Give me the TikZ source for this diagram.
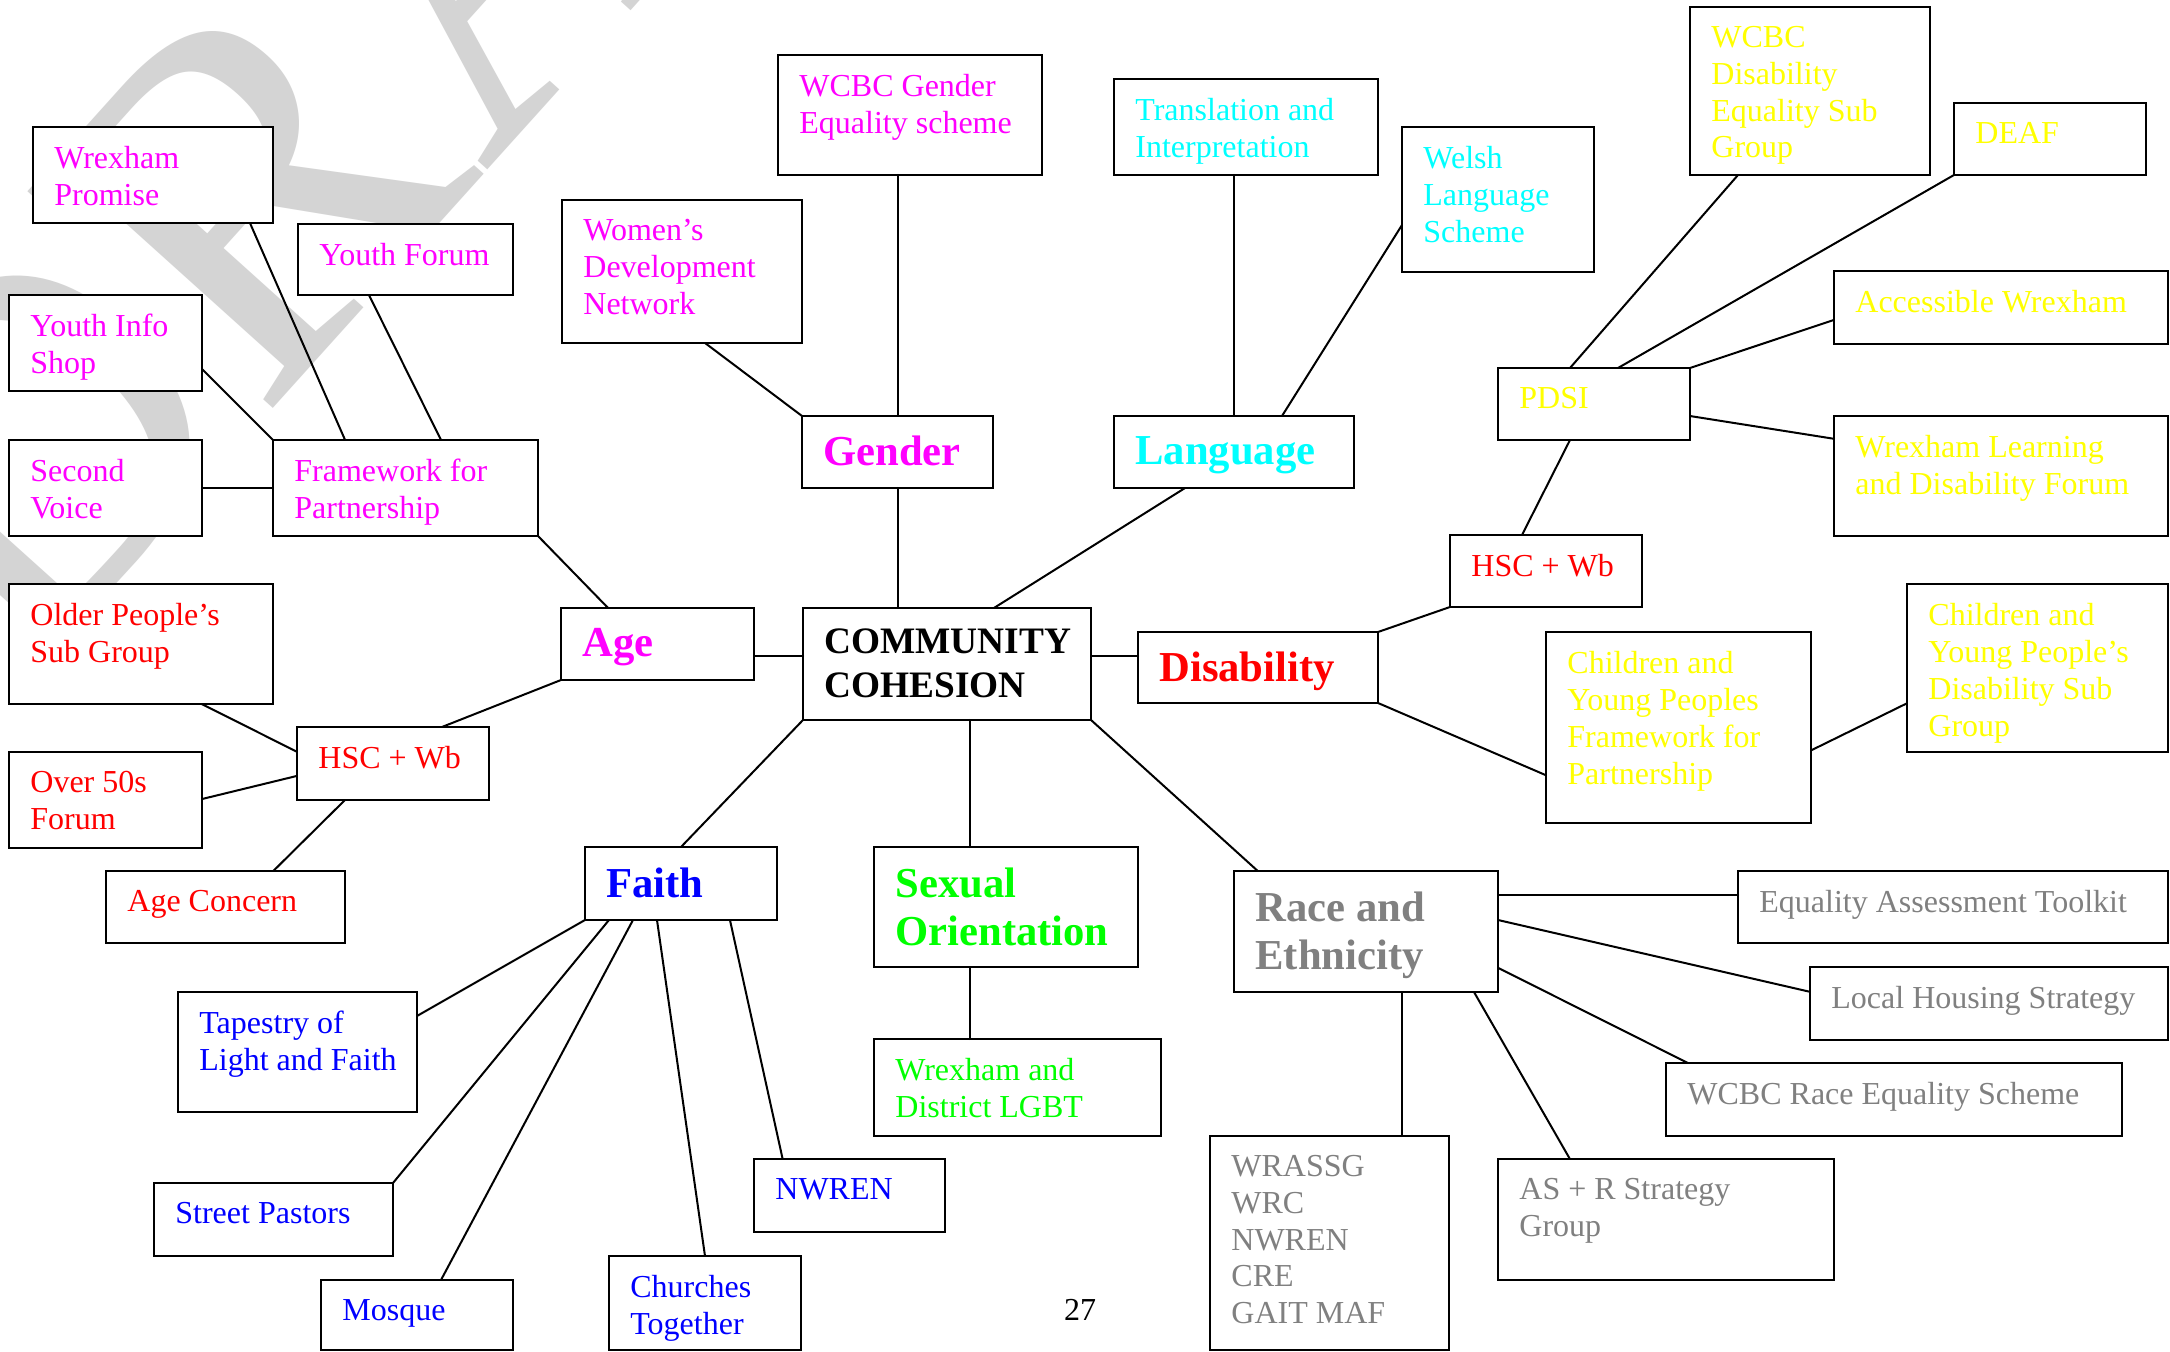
\documentclass[tikz,border=0pt]{standalone}
\usepackage{fontspec}
\setmainfont{Liberation Serif}
\usetikzlibrary{calc}
\definecolor{cmag}{RGB}{255,0,255}
\definecolor{cred}{RGB}{255,0,0}
\definecolor{ccyan}{RGB}{0,255,255}
\definecolor{cyel}{RGB}{255,255,0}
\definecolor{cblue}{RGB}{0,0,255}
\definecolor{cgreen}{RGB}{0,255,0}
\definecolor{cgray}{RGB}{128,128,128}
\definecolor{wmark}{RGB}{212,212,212}
\newcommand\normaltxt{\fontsize{16pt}{18.4pt}\selectfont}
\newcommand\headtxt{\bfseries\fontsize{21.33pt}{24pt}\selectfont}
\newcommand\cctxt{\bfseries\fontsize{18.67pt}{22pt}\selectfont}
\newcommand\mkbox[7]{%
  \node[boxshape, minimum width={(#4-#2)*0.5pt}, minimum height={(#5-#3)*0.5pt}] (#1) at ({(#2+#4)/2},{(#3+#5)/2}) {};
  \node[boxtext, #6] (#1-t) at ([xshift=10.5pt,yshift=-9.5pt]#1.north west) {#7};
}
\tikzset{
  boxshape/.style={draw, line width=1.4pt, fill=white, rectangle, inner sep=0pt, outer sep=0pt},
  boxtext/.style={anchor=north west, inner sep=0pt, align=left, font=\normaltxt},
  hd/.style={font=\headtxt, yshift=-0.5pt},
  ccs/.style={font=\cctxt, yshift=-0.5pt},
  link/.style={line width=1pt, line cap=round},
}
\begin{document}
\begin{tikzpicture}[x=0.5pt, y=-0.5pt]
\useasboundingbox (0,0) rectangle (2170,1352);
\fill[white] (0,0) rectangle (2170,1352);
\begin{scope}
\clip (0,0) rectangle (2170,1352);
\node[rotate=48, anchor=base west, inner sep=0pt, text=wmark, font=\fontsize{250pt}{250pt}\selectfont] (wm) at (20,690) {DRAFT};
\end{scope}

% boxes
\mkbox{wp}{33}{127}{273}{223}{text=cmag}{Wrexham\\Promise}
\mkbox{yf}{298}{224}{513}{295}{text=cmag}{Youth Forum}
\mkbox{yis}{9}{295}{202}{391}{text=cmag}{Youth Info\\Shop}
\mkbox{sv}{9}{440}{202}{536}{text=cmag}{Second\\Voice}
\mkbox{fw}{273}{440}{538}{536}{text=cmag}{Framework for\\Partnership}
\mkbox{wdn}{562}{200}{802}{343}{text=cmag}{Women’s\\Development\\Network}
\mkbox{wge}{778}{55}{1042}{175}{text=cmag}{WCBC Gender\\Equality scheme}
\mkbox{tri}{1114}{79}{1378}{175}{text=ccyan}{Translation and\\Interpretation}
\mkbox{wls}{1402}{127}{1594}{272}{text=ccyan}{Welsh\\Language\\Scheme}
\mkbox{wcbcd}{1690}{7}{1930}{175}{text=cyel}{WCBC\\Disability\\Equality Sub\\Group}
\mkbox{deaf}{1954}{103}{2146}{175}{text=cyel}{DEAF}
\mkbox{aw}{1834}{271}{2168}{344}{text=cyel}{Accessible Wrexham}
\mkbox{pdsi}{1498}{368}{1690}{440}{text=cyel}{PDSI}
\mkbox{wldf}{1834}{416}{2168}{536}{text=cyel}{Wrexham Learning\\and Disability Forum}
\mkbox{gen}{802}{416}{993}{488}{hd,text=cmag}{Gender}
\mkbox{lang}{1114}{416}{1354}{488}{hd,text=ccyan}{Language}
\mkbox{hscd}{1450}{535}{1642}{607}{text=cred}{HSC + Wb}
\mkbox{op}{9}{584}{273}{704}{text=cred}{Older People’s\\Sub Group}
\mkbox{age}{561}{608}{754}{680}{hd,text=cmag}{Age}
\mkbox{cc}{803}{608}{1091}{720}{ccs,text=black}{COMMUNITY\\COHESION}
\mkbox{dis}{1138}{632}{1378}{703}{hd,text=cred}{Disability}
\mkbox{cypf}{1546}{632}{1811}{823}{text=cyel}{Children and\\Young Peoples\\Framework for\\Partnership}
\mkbox{cypd}{1907}{584}{2168}{752}{text=cyel}{Children and\\Young People’s\\Disability Sub\\Group}
\mkbox{hsca}{297}{727}{489}{800}{text=cred}{HSC + Wb}
\mkbox{ofs}{9}{752}{202}{848}{text=cred}{Over 50s\\Forum}
\mkbox{ac}{106}{871}{345}{943}{text=cred}{Age Concern}
\mkbox{faith}{585}{847}{777}{920}{hd,text=cblue}{Faith}
\mkbox{so}{874}{847}{1138}{967}{hd,text=cgreen}{Sexual\\Orientation}
\mkbox{race}{1234}{871}{1498}{992}{hd,text=cgray}{Race and\\Ethnicity}
\mkbox{eat}{1738}{871}{2168}{943}{text=cgray}{Equality Assessment Toolkit}
\mkbox{lhs}{1810}{967}{2168}{1040}{text=cgray}{Local Housing Strategy}
\mkbox{wres}{1666}{1063}{2122}{1136}{text=cgray}{WCBC Race Equality Scheme}
\mkbox{tap}{178}{992}{417}{1112}{text=cblue}{Tapestry of\\Light and Faith}
\mkbox{lgbt}{874}{1039}{1161}{1136}{text=cgreen}{Wrexham and\\District LGBT}
\mkbox{nwren}{754}{1159}{945}{1232}{text=cblue}{NWREN}
\mkbox{wrassg}{1210}{1136}{1449}{1350}{text=cgray}{WRASSG\\WRC\\NWREN\\CRE\\GAIT MAF}
\mkbox{asr}{1498}{1159}{1834}{1280}{text=cgray}{AS + R Strategy\\Group}
\mkbox{sp}{154}{1183}{393}{1256}{text=cblue}{Street Pastors}
\mkbox{mosque}{321}{1280}{513}{1350}{text=cblue}{Mosque}
\mkbox{church}{609}{1256}{801}{1350}{text=cblue}{Churches\\Together}

\node[font=\normaltxt, inner sep=0pt] (pg) at (1080,1310) {27};

% connectors
\draw[link] ($(wp.south west)!0.904!(wp.south east)$) -- ($(fw.north west)!0.272!(fw.north east)$);
\draw[link] ($(yf.south west)!0.33!(yf.south east)$) -- ($(fw.north west)!0.634!(fw.north east)$);
\draw[link] ($(yis.north east)!0.77!(yis.south east)$) -- (fw.north west);
\draw[link] (sv.east) -- (fw.west);
\draw[link] (fw.south east) -- ($(age.north west)!0.244!(age.north east)$);
\draw[link] ($(wdn.south west)!0.596!(wdn.south east)$) -- (gen.north west);
\draw[link] (gen.north) -- (gen.north |- wge.south);
\draw[link] (lang.north) -- (lang.north |- tri.south);
\draw[link] ($(wls.north west)!0.676!(wls.south west)$) -- ($(lang.north west)!0.7!(lang.north east)$);
\draw[link] (gen.south) -- (gen.south |- cc.north);
\draw[link] ($(lang.south west)!0.296!(lang.south east)$) -- ($(cc.north west)!0.663!(cc.north east)$);
\coordinate (ageR) at ($(age.north east)!0.667!(age.south east)$);
\draw[link] (ageR) -- (ageR -| cc.west);
\coordinate (ccR) at ($(cc.north east)!0.43!(cc.south east)$);
\draw[link] (ccR) -- (ccR -| dis.west);
\draw[link] (cc.south west) -- (faith.north);
\coordinate (soT) at ($(so.north west)!0.364!(so.north east)$);
\draw[link] (soT) -- (soT |- cc.south);
\draw[link] (cc.south east) -- ($(race.north west)!0.09!(race.north east)$);
\coordinate (soB) at ($(so.south west)!0.364!(so.south east)$);
\draw[link] (soB) -- (soB |- lgbt.north);
\draw[link] (age.south west) -- ($(hsca.north west)!0.755!(hsca.north east)$);
\draw[link] ($(op.south west)!0.73!(op.south east)$) -- ($(hsca.north west)!0.34!(hsca.south west)$);
\draw[link] ($(ofs.north east)!0.49!(ofs.south east)$) -- ($(hsca.north west)!0.67!(hsca.south west)$);
\draw[link] ($(hsca.south west)!0.25!(hsca.south east)$) -- ($(ac.north west)!0.70!(ac.north east)$);
\draw[link] (faith.south west) -- ($(tap.north east)!0.2!(tap.south east)$);
\draw[link] ($(faith.south west)!0.125!(faith.south east)$) -- (sp.north east);
\draw[link] ($(faith.south west)!0.25!(faith.south east)$) -- ($(mosque.north west)!0.625!(mosque.north east)$);
\draw[link] ($(faith.south west)!0.375!(faith.south east)$) -- ($(church.north west)!0.5!(church.north east)$);
\draw[link] ($(faith.south west)!0.755!(faith.south east)$) -- ($(nwren.north west)!0.15!(nwren.north east)$);
\draw[link] (dis.north east) -- (hscd.south west);
\draw[link] ($(hscd.north west)!0.375!(hscd.north east)$) -- ($(pdsi.south west)!0.375!(pdsi.south east)$);
\draw[link] (dis.south east) -- ($(cypf.north west)!0.75!(cypf.south west)$);
\draw[link] ($(cypf.north east)!0.62!(cypf.south east)$) -- ($(cypd.north west)!0.71!(cypd.south west)$);
\draw[link] ($(pdsi.north west)!0.375!(pdsi.north east)$) -- ($(wcbcd.south west)!0.2!(wcbcd.south east)$);
\draw[link] ($(pdsi.north west)!0.625!(pdsi.north east)$) -- (deaf.south west);
\draw[link] (pdsi.north east) -- ($(aw.north west)!0.67!(aw.south west)$);
\draw[link] ($(pdsi.north east)!0.667!(pdsi.south east)$) -- ($(wldf.north west)!0.19!(wldf.south west)$);
\coordinate (raceA) at ($(race.north east)!0.2!(race.south east)$);
\draw[link] (raceA) -- (raceA -| eat.west);
\draw[link] ($(race.north east)!0.405!(race.south east)$) -- ($(lhs.north west)!0.34!(lhs.south west)$);
\draw[link] ($(race.north east)!0.80!(race.south east)$) -- ($(wres.north west)!0.048!(wres.north east)$);
\draw[link] ($(race.south west)!0.909!(race.south east)$) -- ($(asr.north west)!0.214!(asr.north east)$);
\coordinate (raceB) at ($(race.south west)!0.636!(race.south east)$);
\draw[link] (raceB) -- (raceB |- wrassg.north);
\end{tikzpicture}
\end{document}
